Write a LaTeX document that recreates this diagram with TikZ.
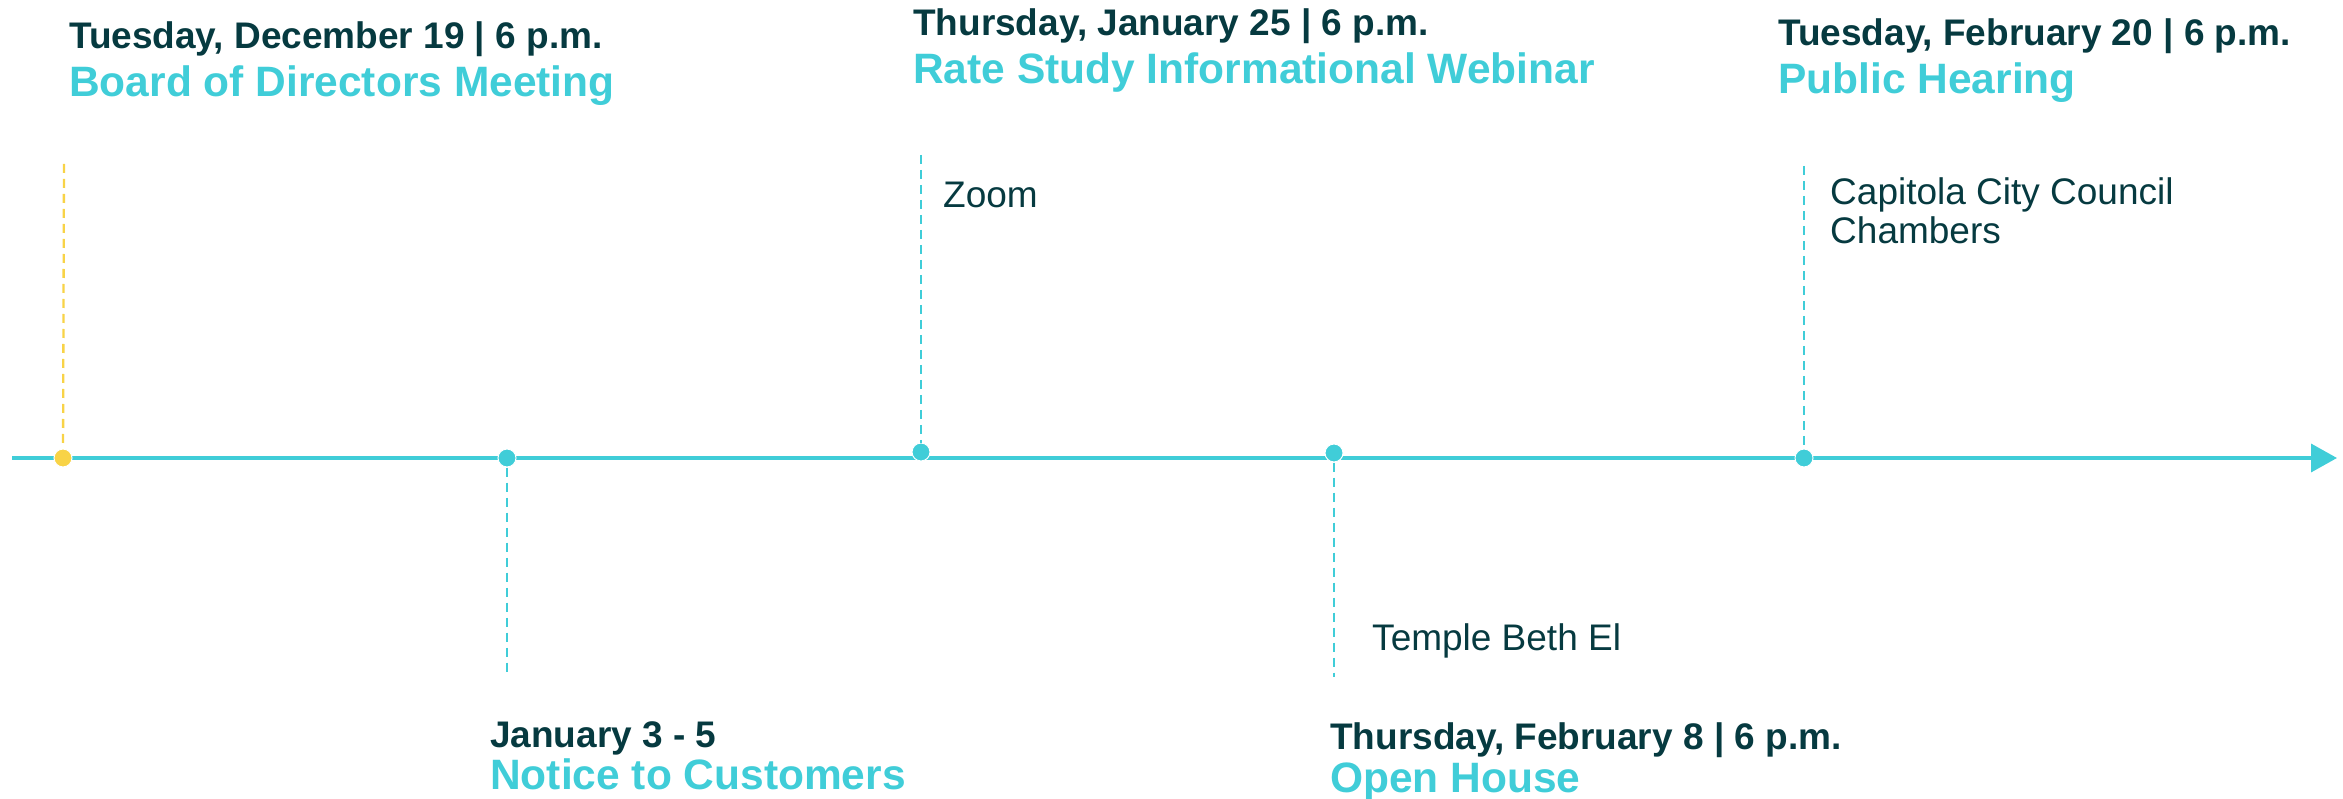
\documentclass[tikz,border=0pt]{standalone}
\usepackage{fontspec}
\setmainfont{Liberation Sans}
\usetikzlibrary{arrows.meta}
\definecolor{navy}{HTML}{063A40}
\definecolor{aqua}{HTML}{40CDD8}
\definecolor{gold}{HTML}{F8D347}

\begin{document}
\begin{tikzpicture}[x=1pt, y=-1pt,
  every node/.style={inner sep=0pt, anchor=base west},
  dot/.style={circle, fill=aqua, draw=white, line width=1pt, minimum size=18pt, inner sep=0pt, anchor=center},
  date/.style={font=\fontsize{37}{40}\selectfont\bfseries, text=navy},
  title/.style={font=\fontsize{42.5}{45}\selectfont\bfseries, text=aqua},
  place/.style={font=\fontsize{37}{39}\selectfont, text=navy, align=left},
  stem/.style={aqua, line width=2.3pt, dash pattern=on 9pt off 6pt}]
  \useasboundingbox (0,0) rectangle (2343,799);
  % time axis
  \coordinate (start) at (12,458);
  \coordinate (end) at (2337,458);
  \draw[aqua, line width=3.6pt, -{Triangle[length=26pt,width=28pt]}] (start) -- (end);
  % events on the axis
  \node[dot, fill=gold] (d1) at (63,458) {};
  \node[dot] (d2) at (507,458) {};
  \node[dot] (d3) at (921,452) {};
  \node[dot] (d4) at (1334,453) {};
  \node[dot] (d5) at (1804,458) {};
  \coordinate (t1) at (64,164);
  \coordinate (b2) at (507,677);
  \coordinate (t3) at (921,155);
  \coordinate (b4) at (1334,677);
  \coordinate (t5) at (1804,166);
  \draw[stem, gold] (t1) -- (d1);
  \draw[stem] (d2) -- (b2);
  \draw[stem] (t3) -- (d3);
  \draw[stem] (d4) -- (b4);
  \draw[stem] (t5) -- (d5);
  % labels
  \node[date] (when1) at (69,49) {Tuesday, December 19 | 6 p.m.};
  \node[title] (what1) at (69,97) {Board of Directors Meeting};
  \node[date] (when2) at (490,747) {January 3 - 5};
  \node[title] (what2) at (490,789) {Notice to Customers};
  \node[date] (when3) at (913,36) {Thursday, January 25 | 6 p.m.};
  \node[title] (what3) at (913,84) {Rate Study Informational Webinar};
  \node[date] (when4) at (1330,749) {Thursday, February 8 | 6 p.m.};
  \node[title] (what4) at (1330,792) {Open House};
  \node[date] (when5) at (1778,46) {Tuesday, February 20 | 6 p.m.};
  \node[title] (what5) at (1778,94) {Public Hearing};
  \node[place] (where3) at (943,208) {Zoom};
  \node[place] (where4) at (1372,650) {Temple Beth El};
  \node[place] (where5) at (1830,244) {Capitola City Council\\Chambers};
\end{tikzpicture}
\end{document}
